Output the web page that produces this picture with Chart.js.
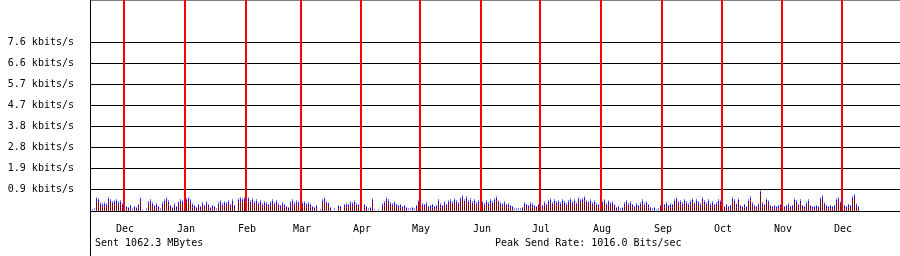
<!DOCTYPE html>
<html>
<head>
<meta charset="utf-8">
<script src="https://cdn.jsdelivr.net/npm/chart.js@4/dist/chart.umd.min.js"></script>
<style>
  html, body { margin: 0; padding: 0; background: #fff; }
  #wrap { width: 900px; height: 256px; }
</style>
</head>
<body>
<div id="wrap"><canvas id="trafficChart" width="900" height="256"></canvas></div>
<script>
// y axis labels (one per gridline, bottom to top)
const yLabels = ['', '0.9 kbits/s', '1.9 kbits/s', '2.8 kbits/s', '3.8 kbits/s', '4.7 kbits/s', '5.7 kbits/s', '6.6 kbits/s', '7.6 kbits/s', '', ''];
const yStep = 947.5; // bits/s between gridlines

// month boundaries (day index) and their labels
const monthLabels = ['Dec', 'Jan', 'Feb', 'Mar', 'Apr', 'May', 'Jun', 'Jul', 'Aug', 'Sep', 'Oct', 'Nov', 'Dec'];
const monthPos = [16.75, 47.25, 77.75, 105.25, 135.25, 164.75, 195.25, 224.75, 255.25, 285.75, 315.75, 345.75, 375.75];

// daily values in bits/s, one per day
const peakOut = [0,90,135,630,585,405,360,405,360,630,540,450,495,540,450,495,360,405,225,180,270,135,225,180,315,630,90,0,135,450,540,405,270,360,225,135,405,540,630,495,270,180,360,225,450,540,495,405,585,630,540,360,270,180,315,225,405,270,450,315,180,270,225,135,405,495,360,450,405,495,315,540,270,0,585,630,585,630,540,630,495,585,450,540,405,495,360,450,405,315,450,540,405,495,360,270,405,315,225,180,450,540,405,495,450,360,405,450,360,405,315,225,180,270,0,90,540,630,450,405,180,0,135,0,270,225,0,315,360,315,450,405,495,360,315,135,0,315,225,135,180,585,90,0,90,0,360,450,630,540,405,360,450,315,270,315,225,270,180,135,135,180,135,270,495,450,360,315,405,225,270,315,225,270,540,360,270,450,315,495,540,450,585,495,405,630,720,540,675,495,585,450,540,405,495,630,450,360,495,405,540,450,585,675,495,405,360,450,315,360,270,225,135,135,135,135,180,405,315,270,405,360,270,225,315,180,270,450,315,495,585,405,540,450,495,405,540,450,360,495,585,450,540,405,630,540,585,675,495,450,540,405,495,360,315,405,450,540,360,495,405,450,315,180,225,135,180,405,495,360,450,315,225,360,270,405,540,360,450,315,180,135,180,90,135,270,585,315,405,270,360,315,540,630,450,495,405,540,450,360,495,585,405,540,450,360,630,495,405,540,360,450,315,405,540,495,270,225,315,225,270,630,540,360,585,270,225,315,225,540,675,405,270,225,360,945,405,315,585,495,270,225,270,225,270,315,270,225,270,360,225,270,585,495,315,540,270,225,405,540,270,225,225,270,225,630,720,405,270,225,270,225,270,585,630,450,360,270,225,315,270,675,765,360,225];
const avgOut = [0,0,0,540,495,315,270,315,270,540,450,360,405,450,360,405,270,315,180,135,225,0,180,135,270,540,0,0,0,360,450,315,225,270,180,0,315,450,540,405,225,135,270,180,360,450,405,315,495,540,450,270,225,135,270,180,315,225,360,270,135,225,180,0,315,405,270,360,315,405,270,450,225,0,495,540,495,540,450,540,405,495,360,450,315,405,270,360,315,270,360,450,315,405,270,225,315,270,180,135,360,450,315,405,360,270,315,360,270,315,270,180,135,225,0,0,450,540,360,315,135,0,0,0,225,180,0,270,270,270,360,315,405,270,270,0,0,270,180,0,135,495,0,0,0,0,270,360,540,450,315,270,360,270,225,270,180,225,135,0,0,135,0,225,405,360,270,270,315,180,225,270,180,225,450,270,225,360,270,405,450,360,495,405,315,540,630,450,585,405,495,360,450,315,405,540,360,270,405,315,450,360,495,585,405,315,270,360,270,270,225,180,0,0,0,0,135,315,270,225,315,270,225,180,270,135,225,360,270,405,495,315,450,360,405,315,450,360,270,405,495,360,450,315,540,450,495,585,405,360,450,315,405,270,270,315,360,450,270,405,315,360,270,135,180,0,135,315,405,270,360,270,180,270,225,315,450,270,360,270,135,0,135,0,0,225,495,270,315,225,270,270,450,540,360,405,315,450,360,270,405,495,315,450,360,270,540,405,315,450,270,360,270,315,450,405,225,180,270,180,225,540,450,270,495,225,180,270,180,450,585,315,225,180,270,855,315,270,495,405,225,180,225,180,225,270,225,180,225,270,180,225,495,405,270,450,225,180,315,450,225,180,180,225,180,540,630,315,225,180,225,180,225,495,540,360,270,225,180,270,225,585,675,270,180];
const peakIn = [0,0,0,450,405,225,180,225,180,450,360,270,315,360,270,315,180,225,90,45,135,0,90,45,180,450,0,0,0,270,360,225,135,180,90,0,225,360,450,315,135,45,180,90,270,360,315,225,405,450,360,180,135,45,180,90,225,135,270,180,45,135,90,0,225,315,180,270,225,315,180,360,135,0,405,450,405,450,360,450,315,405,270,360,225,315,180,270,225,180,270,360,225,315,180,135,225,180,90,45,270,360,225,315,270,180,225,270,180,225,180,90,45,135,0,0,360,450,270,225,45,0,0,0,135,90,0,180,180,180,270,225,315,180,180,0,0,180,90,0,45,405,0,0,0,0,180,270,450,360,225,180,270,180,135,180,90,135,45,0,0,45,0,135,315,270,180,180,225,90,135,180,90,135,360,180,135,270,180,315,360,270,405,315,225,450,540,360,495,315,405,270,360,225,315,450,270,180,315,225,360,270,405,495,315,225,180,270,180,180,135,90,0,0,0,0,45,225,180,135,225,180,135,90,180,45,135,270,180,315,405,225,360,270,315,225,360,270,180,315,405,270,360,225,450,360,405,495,315,270,360,225,315,180,180,225,270,360,180,315,225,270,180,45,90,0,45,225,315,180,270,180,90,180,135,225,360,180,270,180,45,0,45,0,0,135,405,180,225,135,180,180,360,450,270,315,225,360,270,180,315,405,225,360,270,180,450,315,225,360,180,270,180,225,360,315,135,90,180,90,135,450,360,180,405,135,90,180,90,360,495,225,135,90,180,765,225,180,405,315,135,90,135,90,135,180,135,90,135,180,90,135,405,315,180,360,135,90,225,360,135,90,90,135,90,450,540,225,135,90,135,90,135,405,450,270,180,135,90,180,135,495,585,180,90];
const avgIn = [0,0,0,405,360,180,135,180,135,405,315,225,270,315,225,270,135,180,45,0,90,0,45,0,135,405,0,0,0,225,315,180,90,135,45,0,180,315,405,270,90,0,135,45,225,315,270,180,360,405,315,135,90,0,135,45,180,90,225,135,0,90,45,0,180,270,135,225,180,270,135,315,90,0,360,405,360,405,315,405,270,360,225,315,180,270,135,225,180,135,225,315,180,270,135,90,180,135,45,0,225,315,180,270,225,135,180,225,135,180,135,45,0,90,0,0,315,405,225,180,0,0,0,0,90,45,0,135,135,135,225,180,270,135,135,0,0,135,45,0,0,360,0,0,0,0,135,225,405,315,180,135,225,135,90,135,45,90,0,0,0,0,0,90,270,225,135,135,180,45,90,135,45,90,315,135,90,225,135,270,315,225,360,270,180,405,495,315,450,270,360,225,315,180,270,405,225,135,270,180,315,225,360,450,270,180,135,225,135,135,90,45,0,0,0,0,0,180,135,90,180,135,90,45,135,0,90,225,135,270,360,180,315,225,270,180,315,225,135,270,360,225,315,180,405,315,360,450,270,225,315,180,270,135,135,180,225,315,135,270,180,225,135,0,45,0,0,180,270,135,225,135,45,135,90,180,315,135,225,135,0,0,0,0,0,90,360,135,180,90,135,135,315,405,225,270,180,315,225,135,270,360,180,315,225,135,405,270,180,315,135,225,135,180,315,270,90,45,135,45,90,405,315,135,360,90,45,135,45,315,450,180,90,45,135,720,180,135,360,270,90,45,90,45,90,135,90,45,90,135,45,90,360,270,135,315,90,45,180,315,90,45,45,90,45,405,495,180,90,45,90,45,90,360,405,225,135,90,45,135,90,450,540,135,45];

const sentText = 'Sent 1062.3 MBytes';
const peakText = 'Peak Send Rate: 1016.0 Bits/sec';

const FONT = '"DejaVu Sans Mono", "Liberation Mono", monospace';
Chart.defaults.font.family = FONT;
Chart.defaults.font.size = 10;
Chart.defaults.color = '#000';

function toPoints(arr) {
  return arr.map((v, i) => ({ x: i, y: v }));
}

// left axis runs the full height, plus the two footer lines
const frame = {
  id: 'frame',
  afterDraw(chart) {
    const ctx = chart.ctx;
    const left = chart.chartArea.left;
    ctx.save();
    ctx.strokeStyle = '#000';
    ctx.lineWidth = 1;
    ctx.beginPath();
    ctx.moveTo(left + 0.5, 0);
    ctx.lineTo(left + 0.5, chart.height);
    ctx.stroke();
    ctx.font = '10px ' + FONT;
    ctx.fillStyle = '#000';
    ctx.textBaseline = 'alphabetic';
    ctx.fillText(sentText, left + 5, 246);
    ctx.fillText(peakText, 495, 246);
    ctx.restore();
  }
};

new Chart(document.getElementById('trafficChart'), {
  type: 'bar',
  data: {
    datasets: [
      { label: 'avg in', data: toPoints(avgIn), backgroundColor: '#800000' },
      { label: 'peak in', data: toPoints(peakIn), backgroundColor: '#ff0000' },
      { label: 'avg out', data: toPoints(avgOut), backgroundColor: '#0000ff' },
      { label: 'peak out', data: toPoints(peakOut), backgroundColor: '#8080ff' }
    ]
  },
  options: {
    responsive: false,
    animation: false,
    layout: { padding: 0 },
    datasets: { bar: { grouped: false, barThickness: 1, borderWidth: 0, inflateAmount: 0 } },
    plugins: { legend: { display: false }, tooltip: { enabled: false } },
    scales: {
      x: {
        type: 'linear',
        offset: false,
        min: -0.25,
        max: 404.75,
        afterFit: s => { s.height = 45; s.paddingLeft = 0; s.paddingRight = 0; },
        afterBuildTicks: s => { s.ticks = monthPos.map(v => ({ value: v })); },
        ticks: {
          autoSkip: false,
          maxRotation: 0,
          padding: 12,
          labelOffset: 1,
          callback: (v, i) => monthLabels[i]
        },
        grid: { offset: false, color: '#ff0000', lineWidth: 2, drawTicks: false, z: 1 },
        border: { display: true, color: '#000', width: 1 }
      },
      y: {
        type: 'linear',
        min: 0,
        max: yStep * 10,
        afterFit: s => { s.width = 90; s.paddingTop = 0; s.paddingBottom = 0; },
        afterBuildTicks: s => { s.ticks = yLabels.map((l, i) => ({ value: i * yStep })); },
        ticks: {
          autoSkip: false,
          padding: 16,
          callback: (v, i) => yLabels[i]
        },
        grid: {
          drawTicks: false,
          color: c => (c.index >= 0 && c.index <= 8) ? '#000' : 'rgba(0,0,0,0)'
        },
        border: { display: false }
      }
    }
  },
  plugins: [frame]
});
</script>
</body>
</html>
